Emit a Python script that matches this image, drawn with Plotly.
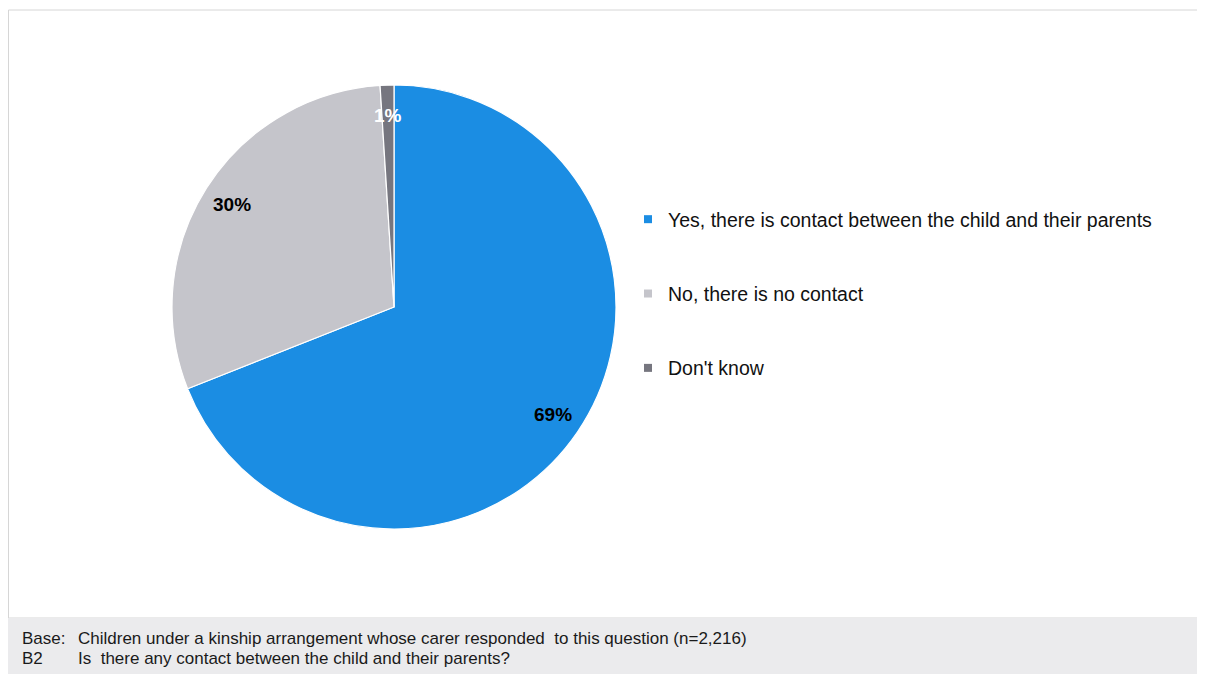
import math
import plotly.graph_objects as go

# ---- data ----
categories = [
    "Yes, there is contact between the child and their parents",
    "No, there is no contact",
    "Don't know",
]
values = [69, 30, 1]
value_labels = ["69%", "30%", "1%"]
label_colors = ["#000000", "#000000", "#ffffff"]
colors = ["#1b8de3", "#c5c5cb", "#76767f"]
footer_keys = ["Base:", "B2"]
footer_texts = [
    "Children under a kinship arrangement whose carer responded  to this question (n=2,216)",
    "Is  there any contact between the child and their parents?",
]

# page has an 8px body margin, so the figure occupies 1197x666
W, H = 1197, 666
FONT = "Liberation Sans, Arial, sans-serif"

# pie geometry (figure pixels)
cx_px, cy_px, R_px = 386, 299, 222
dom_x = [(cx_px - R_px) / W, (cx_px + R_px) / W]
dom_y = [1 - (cy_px + R_px) / H, 1 - (cy_px - R_px) / H]

fig = go.Figure()
fig.add_trace(go.Pie(
    labels=categories,
    values=values,
    sort=False,
    direction="clockwise",
    rotation=0,
    marker=dict(colors=colors, line=dict(color="#ffffff", width=1.2)),
    textinfo="none",
    hoverinfo="label+percent",
    showlegend=False,
    domain=dict(x=dom_x, y=dom_y),
))

# legend via dummy traces (one group each for spacing)
for i, (name, col) in enumerate(zip(categories, colors)):
    fig.add_trace(go.Scatter(
        x=[None], y=[None], mode="markers", name=name,
        legendgroup=f"g{i}",
        marker=dict(symbol="square", size=8, color=col),
    ))

# value labels placed along each slice's mid-angle
total = sum(values)
cum = 0
annotations = []
for v, lab, lc in zip(values, value_labels, label_colors):
    mid = (cum + v / 2) / total * 2 * math.pi
    cum += v
    r = 0.865 * R_px
    xp = cx_px + r * math.sin(mid)
    yp = cy_px - r * math.cos(mid)
    annotations.append(dict(
        x=xp / W, y=1 - yp / H, xref="paper", yref="paper",
        text=f"<b>{lab}</b>", showarrow=False,
        font=dict(family=FONT, size=19, color=lc),
        xanchor="center", yanchor="middle",
    ))

# footer
for i, (k, t) in enumerate(zip(footer_keys, footer_texts)):
    ypx = 630 + i * 20
    annotations.append(dict(
        x=12 / W, y=1 - ypx / H, xref="paper", yref="paper", text=k,
        showarrow=False, xanchor="left", yanchor="middle",
        font=dict(family=FONT, size=17, color="#1a1a1a"),
    ))
    annotations.append(dict(
        x=68 / W, y=1 - ypx / H, xref="paper", yref="paper", text=t,
        showarrow=False, xanchor="left", yanchor="middle",
        font=dict(family=FONT, size=17, color="#1a1a1a"),
    ))

fig.update_layout(
    width=W, height=H,
    margin=dict(l=0, r=0, t=0, b=0),
    paper_bgcolor="#ffffff",
    plot_bgcolor="#ffffff",
    xaxis=dict(visible=False),
    yaxis=dict(visible=False),
    showlegend=True,
    legend=dict(
        x=620 / W, y=1 - 192 / H, xanchor="left", yanchor="top",
        font=dict(family=FONT, size=19.5, color="#111111"),
        tracegroupgap=46,
        traceorder="grouped",
        bgcolor="rgba(0,0,0,0)",
        itemclick=False, itemdoubleclick=False,
    ),
    shapes=[
        dict(type="rect", xref="paper", yref="paper",
             x0=0.5 / W, x1=1.01, y0=1 - 610 / H, y1=1 - 2 / H,
             line=dict(color="#d6d6d6", width=1), fillcolor="rgba(0,0,0,0)", layer="below"),
        dict(type="rect", xref="paper", yref="paper",
             x0=0, x1=1, y0=0, y1=1 - 610 / H,
             line=dict(width=0), fillcolor="#ebebed", layer="below"),
    ],
    annotations=annotations,
)

fig.write_html("out.html")
